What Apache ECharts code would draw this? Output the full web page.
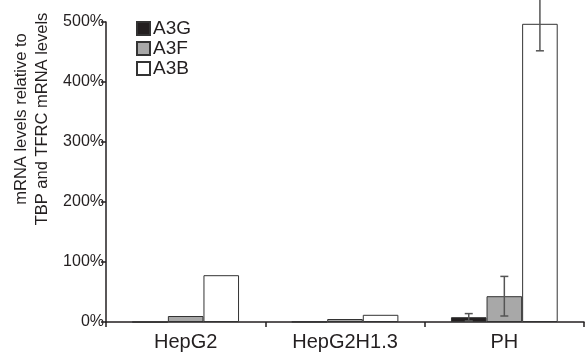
<!DOCTYPE html>
<html>
<head>
<meta charset="utf-8">
<script src="https://cdn.jsdelivr.net/npm/echarts@6/dist/echarts.min.js"></script>
<style>html,body{margin:0;padding:0;background:#fff}#c{width:585px;height:356px}</style>
</head>
<body>
<div id="c"></div>
<script>
var categories = ['HepG2', 'HepG2H1.3', 'PH'];
var a3g = [0, 0.5, 8];
var a3f = [10, 5, 43];
var a3b = [78, 12, 497];
var errA3G = [0, 0, 6];
var errA3F = [0, 0, 33];
var errA3B = [0, 0, 45];
var yTicks = [0, 100, 200, 300, 400, 500];

var FONT = 'Liberation Sans, Arial, sans-serif';
var chart = echarts.init(document.getElementById('c'));
var nSeries = 3;
var gapFrac = 0.33;

function errSeries(idx, vals, errs) {
  return {
    type: 'custom',
    clip: false,
    silent: true,
    z: 5,
    data: vals.map(function (v, i) { return [i, v, errs[i]]; }),
    renderItem: function (params, api) {
      var e = api.value(2);
      if (!e) return null;
      var band = api.size([1, 0])[0];
      var bw = band * (1 - gapFrac) / nSeries;
      var c = api.coord([api.value(0), api.value(1)]);
      var x = c[0] - bw * nSeries / 2 + bw * (idx + 0.5);
      var hi = api.coord([api.value(0), api.value(1) + e])[1];
      var lo = api.coord([api.value(0), api.value(1) - e])[1];
      var cap = 4;
      var st = { stroke: '#555', lineWidth: 1.5 };
      return {
        type: 'group',
        children: [
          { type: 'line', shape: { x1: x, y1: hi, x2: x, y2: lo }, style: st },
          { type: 'line', shape: { x1: x - cap, y1: hi, x2: x + cap, y2: hi }, style: st },
          { type: 'line', shape: { x1: x - cap, y1: lo, x2: x + cap, y2: lo }, style: st }
        ]
      };
    }
  };
}

var barBorder = { borderColor: '#333', borderWidth: 1 };
chart.setOption({
  animation: false,
  grid: { left: 106, right: 1, top: 22, bottom: 34, containLabel: false },
  legend: {
    orient: 'vertical', left: 136, top: 19, padding: 0, itemWidth: 13, itemHeight: 13, itemGap: 1,
    icon: 'rect',
    textStyle: { fontFamily: FONT, fontSize: 19, color: '#231f20', padding: [0, 0, 0, -2] },
    data: ['A3G', 'A3F', 'A3B']
  },
  graphic: [{
    type: 'text', x: 32, y: 119, rotation: Math.PI / 2,
    style: {
      text: 'mRNA levels relative to\nTBP and TFRC mRNA levels',
      font: '16.5px ' + FONT, fill: '#231f20', lineHeight: 21,
      textAlign: 'center', textVerticalAlign: 'middle', align: 'center', verticalAlign: 'middle'
    }
  }],
  xAxis: {
    type: 'category', data: categories,
    axisLine: { lineStyle: { color: '#231f20', width: 1.5 } },
    axisTick: { show: true, length: 5, interval: 0, lineStyle: { color: '#231f20', width: 1.5 } },
    axisLabel: { fontFamily: FONT, fontSize: 20, color: '#231f20', margin: 10 }
  },
  yAxis: {
    type: 'value', min: 0, max: 500, interval: 100,
    splitLine: { show: false },
    axisLine: { show: true, lineStyle: { color: '#231f20', width: 1.5 } },
    axisTick: { show: true, length: 5, lineStyle: { color: '#231f20', width: 1.5 } },
    axisLabel: { fontFamily: FONT, fontSize: 16, color: '#231f20', margin: 2,
      formatter: function (v) { return yTicks.indexOf(v) >= 0 ? v + '%' : ''; } }
  },
  series: [
    { name: 'A3G', type: 'bar', data: a3g, barGap: '0%', barCategoryGap: (gapFrac * 100) + '%',
      itemStyle: Object.assign({ color: '#231f20' }, barBorder) },
    { name: 'A3F', type: 'bar', data: a3f, barGap: '0%', barCategoryGap: (gapFrac * 100) + '%',
      itemStyle: Object.assign({ color: '#a8a8a8' }, barBorder) },
    { name: 'A3B', type: 'bar', data: a3b, barGap: '0%', barCategoryGap: (gapFrac * 100) + '%',
      itemStyle: Object.assign({ color: '#ffffff' }, barBorder) },
    errSeries(0, a3g, errA3G),
    errSeries(1, a3f, errA3F),
    errSeries(2, a3b, errA3B)
  ]
});
</script>
</body>
</html>
